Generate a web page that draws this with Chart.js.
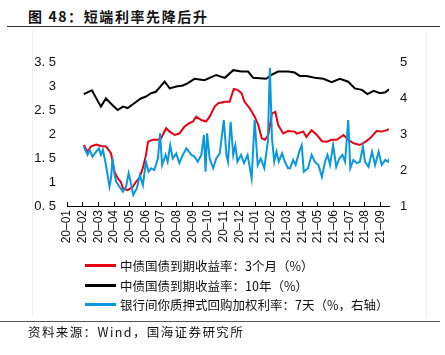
<!DOCTYPE html>
<html>
<head>
<meta charset="utf-8">
<script src="https://cdn.jsdelivr.net/npm/chart.js@4.4.1/dist/chart.umd.min.js"></script>
<style>
  html, body { margin:0; padding:0; background:#fff; }
  body { width:445px; height:355px; position:relative; overflow:hidden; font-family:"Liberation Sans", Arial, sans-serif; }
  #frame { position:absolute; left:32px; top:30px; width:393px; height:286px; border-left:1px solid #efefef; border-right:1px solid #efefef; }
  #title { position:absolute; left:28px; top:6px; font-family:"Noto Sans CJK SC", sans-serif; font-weight:bold; font-size:14px; letter-spacing:1.6px; color:#111; line-height:20px; }
  #topline { position:absolute; left:7px; top:26px; width:433px; height:0; border-top:1.5px solid #333; }
  #botline { position:absolute; left:0px; top:321px; width:440px; height:0; border-top:1.5px solid #555; }
  #source { position:absolute; left:28px; top:323px; font-family:"Noto Sans CJK SC", sans-serif; font-size:12.5px; letter-spacing:1.4px; color:#111; line-height:18px; }
  #chartwrap { position:absolute; left:0; top:0; width:445px; height:260px; }
  #legend { position:absolute; left:85px; top:256px; font-family:"Noto Sans CJK SC", sans-serif; font-size:12.5px; color:#111; }
  .item { height:19.5px; line-height:19.5px; white-space:nowrap; display:flex; align-items:center; }
  .swatch { display:inline-block; width:31px; height:3px; margin-right:4px; }
</style>
</head>
<body>
<div id="frame"></div>
<div id="title">图 48：短端利率先降后升</div>
<div id="topline"></div>
<div id="chartwrap"><canvas id="c" width="445" height="260"></canvas></div>
<div id="legend"></div>
<div id="botline"></div>
<div id="source">资料来源：Wind，国海证券研究所</div>
<script>
// ---------------- data ----------------
const seriesNames = [
  "中债国债到期收益率：3个月（%）",
  "中债国债到期收益率：10年（%）",
  "银行间你质押式回购加权利率：7天（%，右轴）"
];
const monthTickLabels = ["20-01","20-02","20-03","20-04","20-05","20-06","20-07","20-08","20-09","20-10","20-11","20-12",
                         "21-01","21-02","21-03","21-04","21-05","21-06","21-07","21-08","21-09"];
const axisStartDate = "2020-01-01";
const axisEndDate = "2021-09-17";
const leftTicks = [0.5, 1, 1.5, 2, 2.5, 3, 3.5];
const rightTicks = [1, 1.5, 2, 2.5, 3, 3.5, 4, 4.5, 5];

const tenYDates = ["2020-02-03","2020-02-18","2020-03-06","2020-03-16","2020-03-29","2020-04-08","2020-04-18","2020-04-27",
  "2020-05-10","2020-05-23","2020-06-02","2020-06-12","2020-06-21","2020-07-08","2020-07-18","2020-07-31","2020-08-13",
  "2020-08-23","2020-09-05","2020-09-24","2020-10-17","2020-11-03","2020-11-19","2020-12-05","2020-12-18","2020-12-28",
  "2021-01-10","2021-01-23","2021-02-02","2021-02-14","2021-03-04","2021-03-17","2021-03-27","2021-04-09","2021-04-25",
  "2021-05-12","2021-05-28","2021-06-13","2021-06-29","2021-07-12","2021-07-26","2021-08-06","2021-08-18","2021-08-31",
  "2021-09-10","2021-09-17"];
const tenY = [2.83,2.91,2.57,2.74,2.60,2.50,2.57,2.54,
  2.64,2.74,2.78,2.85,2.88,3.09,2.95,2.99,3.01,
  3.06,3.15,3.12,3.23,3.17,3.33,3.30,3.30,3.17,
  3.16,3.15,3.23,3.30,3.30,3.28,3.21,3.21,3.17,
  3.15,3.08,3.15,3.09,2.95,2.92,2.83,2.90,2.85,
  2.87,2.93];

const threeMDates = ["2020-02-03","2020-02-10","2020-02-16","2020-02-26","2020-03-06","2020-03-16","2020-03-26","2020-04-02",
  "2020-04-08","2020-04-14","2020-04-18","2020-04-27","2020-05-07","2020-05-13","2020-05-20","2020-05-27","2020-06-02",
  "2020-06-06","2020-06-15","2020-06-25","2020-07-01","2020-07-11","2020-07-18","2020-07-28","2020-08-06","2020-08-16",
  "2020-08-25","2020-09-02","2020-09-08","2020-09-18","2020-09-27","2020-10-04","2020-10-14","2020-10-21","2020-11-03",
  "2020-11-12","2020-11-20","2020-11-27","2020-12-05","2020-12-11","2020-12-21","2020-12-31","2021-01-07","2021-01-14",
  "2021-01-20","2021-01-27","2021-02-03","2021-02-09","2021-02-14","2021-02-23","2021-03-04","2021-03-17","2021-03-21",
  "2021-04-03","2021-04-09","2021-04-19","2021-04-29","2021-05-09","2021-05-19","2021-05-28","2021-06-07","2021-06-20",
  "2021-06-29","2021-07-09","2021-07-22","2021-08-01","2021-08-11","2021-08-24","2021-09-03","2021-09-13","2021-09-17"];
const threeM = [1.77,1.63,1.74,1.78,1.75,1.74,1.60,1.21,
  1.08,1.00,0.87,0.83,0.90,1.00,1.08,1.29,1.56,
  1.84,1.88,1.88,1.91,2.12,2.05,1.98,2.01,2.15,
  2.22,2.26,2.36,2.29,2.26,2.36,2.57,2.64,2.67,
  2.67,2.94,2.92,2.85,2.67,2.54,2.36,2.19,1.91,
  1.88,1.98,2.43,2.46,2.19,2.01,2.06,2.05,2.01,
  2.05,1.94,2.08,1.98,1.85,1.84,1.88,1.88,1.98,
  1.88,1.81,1.77,1.83,1.91,2.06,2.05,2.08,2.10];

const repoDates = ["2020-02-03","2020-02-10","2020-02-14","2020-02-19","2020-02-26","2020-03-02","2020-03-06","2020-03-10",
  "2020-03-16","2020-03-23","2020-03-26","2020-03-29","2020-04-02","2020-04-05","2020-04-11","2020-04-18","2020-04-24",
  "2020-04-29","2020-05-04","2020-05-08","2020-05-15","2020-05-21","2020-05-27","2020-06-02","2020-06-07","2020-06-12",
  "2020-06-18","2020-06-25","2020-06-29","2020-07-03","2020-07-10","2020-07-14","2020-07-19","2020-07-24","2020-07-31",
  "2020-08-06","2020-08-13","2020-08-20","2020-08-25","2020-08-30","2020-09-05","2020-09-11","2020-09-18","2020-09-23",
  "2020-09-26","2020-09-29","2020-10-04","2020-10-11","2020-10-17","2020-10-24","2020-11-01","2020-11-06","2020-11-09",
  "2020-11-14","2020-11-19","2020-11-23","2020-11-27","2020-12-04","2020-12-10","2020-12-17","2020-12-25","2020-12-31",
  "2021-01-06","2021-01-12","2021-01-19","2021-01-26","2021-01-30","2021-02-03","2021-02-07","2021-02-11","2021-02-15",
  "2021-02-21","2021-02-26","2021-03-04","2021-03-08","2021-03-14","2021-03-19","2021-03-26","2021-03-31","2021-04-04",
  "2021-04-12","2021-04-19","2021-04-25","2021-05-02","2021-05-09","2021-05-15","2021-05-20","2021-05-25","2021-05-31",
  "2021-06-06","2021-06-12","2021-06-18","2021-06-23","2021-06-29","2021-07-03","2021-07-09","2021-07-16","2021-07-22",
  "2021-07-28","2021-08-01","2021-08-08","2021-08-15","2021-08-21","2021-08-28","2021-09-03","2021-09-10","2021-09-15",
  "2021-09-17"];
const repo7d = [2.65,2.42,2.56,2.37,2.51,2.60,2.42,2.56,
  2.14,1.54,1.77,2.32,1.86,1.68,1.54,1.40,1.54,
  1.91,1.58,1.31,1.49,1.86,1.58,2.23,1.95,2.05,
  2.00,2.32,3.02,2.14,2.42,2.23,2.69,2.32,2.46,
  2.19,2.42,2.60,2.51,2.42,2.37,2.23,2.42,2.97,
  1.95,3.02,2.32,2.05,2.32,2.46,3.39,2.42,2.23,
  3.34,2.42,2.69,2.23,2.42,2.19,2.42,1.77,3.39,
  2.14,2.32,2.05,2.79,4.84,2.88,2.23,2.51,2.23,
  2.46,2.23,2.05,2.05,2.28,2.14,2.51,2.69,1.95,
  2.05,2.42,2.23,2.14,1.81,2.23,2.42,2.14,2.69,
  2.09,2.32,2.42,2.23,3.39,2.05,2.28,2.19,2.23,
  2.65,2.23,2.09,2.51,2.14,2.51,2.14,2.28,2.23,
  2.31];

// ---------------- helpers ----------------
function monthPos(s) {
  const [y, m, d] = s.split("-").map(Number);
  const dim = new Date(y, m, 0).getDate();
  return (y - 2020) * 12 + (m - 1) + (d - 1) / dim;
}
function toPoints(dates, vals) { return dates.map((d, i) => ({ x: monthPos(d), y: vals[i] })); }
function fmtNum(v) { return String(v).replace(".", ". "); }

const colors = ["#e60012", "#000000", "#0a98dc"];

// legend (HTML text)
const legendEl = document.getElementById("legend");
seriesNames.forEach((n, i) => {
  const div = document.createElement("div");
  div.className = "item";
  div.innerHTML = '<span class="swatch" style="background:' + colors[i] + '"></span><span>' + n + '</span>';
  legendEl.appendChild(div);
});

const lineDs = (label, data, color, axis, order) => ({
  label, data, borderColor: color, backgroundColor: color, borderWidth: 2,
  pointRadius: 0, tension: 0, yAxisID: axis, order, fill: false
});

new Chart(document.getElementById("c"), {
  type: "line",
  data: {
    datasets: [
      lineDs(seriesNames[0], toPoints(threeMDates, threeM), colors[0], "y", 1),
      lineDs(seriesNames[1], toPoints(tenYDates, tenY), colors[1], "y", 2),
      lineDs(seriesNames[2], toPoints(repoDates, repo7d), colors[2], "y1", 0)
    ]
  },
  options: {
    responsive: false,
    animation: false,
    layout: { padding: { top: 62, left: 0, right: 0, bottom: 0 } },
    plugins: { legend: { display: false }, tooltip: { enabled: false } },
    scales: {
      x: {
        type: "linear",
        min: monthPos(axisStartDate),
        max: monthPos(axisEndDate),
        afterBuildTicks: (s) => { s.ticks = monthTickLabels.map((_, i) => ({ value: i })); },
        afterFit: (s) => { s.height = 54; },
        ticks: {
          autoSkip: false, minRotation: 90, maxRotation: 90, padding: 8,
          color: "#111", font: { family: "Liberation Sans", size: 12 },
          callback: (v) => (monthTickLabels[Math.round(v)] || "").replace("-", "–")
        },
        grid: { display: true, drawOnChartArea: false, drawTicks: true, tickLength: -4, color: "#000", lineWidth: 1 },
        border: { display: true, color: "#000", width: 1 }
      },
      y: {
        position: "left",
        min: leftTicks[0], max: leftTicks[leftTicks.length - 1],
        afterBuildTicks: (s) => { s.ticks = leftTicks.map(v => ({ value: v })); },
        afterFit: (s) => { s.width = 67; },
        ticks: { padding: 11, color: "#111", font: { family: "Liberation Sans", size: 13 }, callback: (v) => fmtNum(v) },
        grid: { display: false, drawTicks: false },
        border: { display: false }
      },
      y1: {
        position: "right",
        min: rightTicks[0], max: rightTicks[rightTicks.length - 1],
        afterBuildTicks: (s) => { s.ticks = rightTicks.map(v => ({ value: v })); },
        afterFit: (s) => { s.width = 56; },
        ticks: { padding: 11, color: "#111", font: { family: "Liberation Sans", size: 13 }, callback: (v) => fmtNum(v) },
        grid: { display: false, drawTicks: false },
        border: { display: false }
      }
    }
  }
});
</script>
</body>
</html>
